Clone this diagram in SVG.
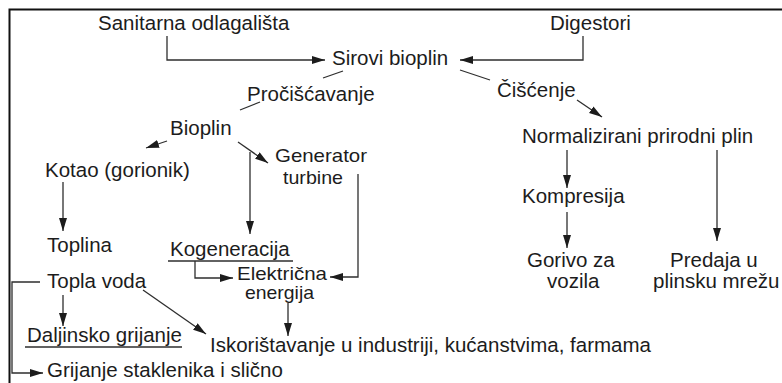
<svg xmlns="http://www.w3.org/2000/svg" width="782" height="383" viewBox="0 0 782 383">
<style>
text{font-family:"Liberation Sans",Arial,sans-serif;font-size:20.5px;fill:#1c1c1c}
.s{font-size:18.5px}
.c{fill:none;stroke:#2e2e2e;stroke-width:1.3}
.a{marker-end:url(#ah)}
.u{stroke:#2e2e2e;stroke-width:1.4}
</style>
<defs>
<marker id="ah" markerUnits="userSpaceOnUse" markerWidth="14" markerHeight="10" refX="13" refY="4" orient="auto">
<path d="M0,0 L13,4 L0,8 Z" fill="#1c1c1c"/>
</marker>
</defs>
<rect width="782" height="383" fill="#fff"/>
<path d="M9.5,383 V9.5 H782" fill="none" stroke="#111" stroke-width="2"/>
<g id="connectors">
<polyline class="c a" points="167,36 167,60 325,60"/>
<polyline class="c a" points="583,36 583,60 460,60"/>
<line class="c" x1="323" y1="78" x2="343" y2="71"/>
<line class="c" x1="240" y1="110" x2="260" y2="102"/>
<line class="c" x1="460" y1="70" x2="490" y2="80"/>
<line class="c a" x1="577" y1="100" x2="602" y2="117"/>
<line class="c a" x1="167" y1="141" x2="146" y2="148"/>
<line class="c a" x1="238" y1="142" x2="268" y2="163"/>
<line class="c a" x1="250" y1="152" x2="250" y2="234"/>
<polyline class="c a" points="358,174 358,277 330,277"/>
<line class="c a" x1="63" y1="182" x2="63" y2="231"/>
<polyline class="c a" points="195,261 195,278 233,278"/>
<line class="c a" x1="288" y1="303" x2="288" y2="336"/>
<polyline class="c a" points="40,282 12,282 12,373 43,373"/>
<line class="c a" x1="63" y1="295" x2="63" y2="326"/>
<line class="c a" x1="143" y1="290" x2="206" y2="334"/>
<line class="c a" x1="567" y1="150" x2="567" y2="188"/>
<line class="c a" x1="567" y1="212" x2="567" y2="248"/>
<line class="c a" x1="717" y1="150" x2="717" y2="241"/>
</g>
<g id="sanitarna"><text x="98" y="30">Sanitarna odlagališta</text></g>
<g id="digestori"><text x="550" y="30">Digestori</text></g>
<g id="sirovi"><text x="332" y="65">Sirovi bioplin</text></g>
<g id="prociscavanje"><text x="247" y="101">Pročišćavanje</text></g>
<g id="ciscenje"><text x="497" y="97">Čišćenje</text></g>
<g id="bioplin"><text x="170" y="135">Bioplin</text></g>
<g id="kotao"><text x="45" y="177">Kotao (gorionik)</text></g>
<g id="generator"><text class="s" x="275" y="162" textLength="92" lengthAdjust="spacingAndGlyphs">Generator</text><text class="s" x="283" y="184" textLength="60" lengthAdjust="spacingAndGlyphs">turbine</text></g>
<g id="toplina"><text x="47" y="252">Toplina</text></g>
<g id="kogeneracija"><text x="170" y="256">Kogeneracija</text><line class="u" x1="168" y1="261" x2="293" y2="261"/></g>
<g id="elektricna"><text class="s" x="237" y="280" textLength="90" lengthAdjust="spacingAndGlyphs">Električna</text><text class="s" x="245" y="299" textLength="69" lengthAdjust="spacingAndGlyphs">energija</text></g>
<g id="topla"><text x="47" y="288">Topla voda</text></g>
<g id="daljinsko"><text x="27" y="342">Daljinsko grijanje</text><line class="u" x1="25" y1="347" x2="182" y2="347"/></g>
<g id="iskoristavanje"><text x="210" y="352">Iskorištavanje u industriji, kućanstvima, farmama</text></g>
<g id="grijanje"><text x="47" y="377">Grijanje staklenika i slično</text></g>
<g id="normalizirani"><text x="522" y="143">Normalizirani prirodni plin</text></g>
<g id="kompresija"><text x="522" y="203">Kompresija</text></g>
<g id="gorivo"><text x="527" y="267">Gorivo za</text><text x="547" y="288">vozila</text></g>
<g id="predaja"><text x="670" y="267">Predaja u</text><text x="653" y="288">plinsku mrežu</text></g>
</svg>
